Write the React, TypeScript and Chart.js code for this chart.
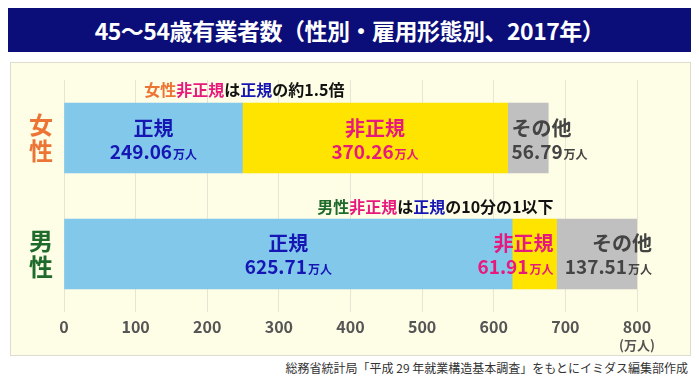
import React, { useEffect, useRef } from "react";
import { Chart, registerables } from "chart.js";

Chart.register(...registerables);

const categories = ["女性", "男性"];
const regular = [249.06, 625.71];
const nonRegular = [370.26, 61.91];
const other = [56.79, 137.51];
const xTicks = [0, 100, 200, 300, 400, 500, 600, 700, 800];
const seriesNames = ["正規", "非正規", "その他"];

const JP = '"Noto Sans CJK JP", "Noto Sans", sans-serif';
const BLUE_TXT = "#1616b4";
const PINK_TXT = "#e8197c";
const GRAY_TXT = "#444444";
const ORANGE = "#ec7434";
const GREEN = "#1e6b2c";

function drawValue(ctx: CanvasRenderingContext2D, value: string, x: number, y: number, align: "left" | "center" | "right", color: string) {
  const numFont = `bold 19px ${JP}`;
  const unitFont = `bold 12px ${JP}`;
  ctx.font = numFont;
  const w1 = ctx.measureText(value).width;
  ctx.font = unitFont;
  const w2 = ctx.measureText("万人").width;
  const total = w1 + 1 + w2;
  let start = x;
  if (align === "center") start = x - total / 2;
  if (align === "right") start = x - total;
  ctx.fillStyle = color;
  ctx.textAlign = "left";
  ctx.textBaseline = "alphabetic";
  ctx.font = numFont;
  ctx.fillText(value, start, y);
  ctx.font = unitFont;
  ctx.fillText("万人", start + w1 + 1, y);
}

function drawRich(ctx: CanvasRenderingContext2D, parts: [string, string][], x: number, y: number, align: "left" | "center" | "right", font: string) {
  ctx.font = font;
  const total = parts.reduce((s, p) => s + ctx.measureText(p[0]).width, 0);
  let cx = x;
  if (align === "center") cx = x - total / 2;
  if (align === "right") cx = x - total;
  ctx.textAlign = "left";
  ctx.textBaseline = "middle";
  for (const [t, c] of parts) {
    ctx.fillStyle = c;
    ctx.fillText(t, cx, y);
    cx += ctx.measureText(t).width;
  }
}

const labelPlugin = {
  id: "barLabels",
  afterDatasetsDraw(chart: any) {
    const ctx = chart.ctx as CanvasRenderingContext2D;
    const metas = [0, 1, 2].map((i) => chart.getDatasetMeta(i));
    const xScale = chart.scales.x;
    const area = chart.chartArea;
    ctx.save();
    const yColors = [ORANGE, GREEN];
    categories.forEach((cat, i) => {
      const bar = metas[0].data[i];
      ctx.font = `bold 24px ${JP}`;
      ctx.fillStyle = yColors[i];
      ctx.textAlign = "center";
      ctx.textBaseline = "middle";
      ctx.fillText(cat[0], 31, bar.y - 13);
      ctx.fillText(cat[1], 31, bar.y + 13);
    });

    const fmt = (v: number) => v.toFixed(2);
    const nameFont = `bold 20px ${JP}`;
    {
      const i = 0;
      const b0 = metas[0].data[i];
      const b1 = metas[1].data[i];
      const b2 = metas[2].data[i];
      const yTop = b0.y - 10;
      const yBot = b0.y + 21;
      ctx.font = nameFont;
      ctx.textBaseline = "middle";
      ctx.textAlign = "center";
      ctx.fillStyle = BLUE_TXT;
      ctx.fillText(seriesNames[0], (b0.base + b0.x) / 2, yTop);
      drawValue(ctx, fmt(regular[i]), (b0.base + b0.x) / 2, yBot, "center", BLUE_TXT);
      ctx.font = nameFont;
      ctx.textBaseline = "middle";
      ctx.textAlign = "center";
      ctx.fillStyle = PINK_TXT;
      ctx.fillText(seriesNames[1], (b1.base + b1.x) / 2, yTop);
      drawValue(ctx, fmt(nonRegular[i]), (b1.base + b1.x) / 2, yBot, "center", PINK_TXT);
      ctx.font = nameFont;
      ctx.textBaseline = "middle";
      ctx.textAlign = "left";
      ctx.fillStyle = GRAY_TXT;
      ctx.fillText(seriesNames[2], b2.base + 4, yTop);
      drawValue(ctx, fmt(other[i]), b2.base + 4, yBot, "left", GRAY_TXT);
      const h = b0.height;
      drawRich(
        ctx,
        [
          ["女性", ORANGE],
          ["非正規", PINK_TXT],
          ["は", "#111"],
          ["正規", BLUE_TXT],
          ["の約1.5倍", "#111"],
        ],
        b0.x + 2,
        b0.y - h / 2 - 13,
        "center",
        `bold 16px ${JP}`
      );
    }
    {
      const i = 1;
      const b0 = metas[0].data[i];
      const b1 = metas[1].data[i];
      const b2 = metas[2].data[i];
      const yTop = b0.y - 11;
      const yBot = b0.y + 20;
      ctx.font = nameFont;
      ctx.textBaseline = "middle";
      ctx.textAlign = "center";
      ctx.fillStyle = BLUE_TXT;
      ctx.fillText(seriesNames[0], (b0.base + b0.x) / 2, yTop);
      drawValue(ctx, fmt(regular[i]), (b0.base + b0.x) / 2, yBot, "center", BLUE_TXT);
      ctx.font = nameFont;
      ctx.textBaseline = "middle";
      ctx.textAlign = "right";
      ctx.fillStyle = PINK_TXT;
      ctx.fillText(seriesNames[1], b1.x - 3, yTop);
      drawValue(ctx, fmt(nonRegular[i]), b1.x - 3, yBot, "right", PINK_TXT);
      ctx.font = nameFont;
      ctx.textBaseline = "middle";
      ctx.textAlign = "right";
      ctx.fillStyle = GRAY_TXT;
      ctx.fillText(seriesNames[2], b2.x - 3, yTop);
      drawValue(ctx, fmt(other[i]), b2.x - 3, yBot, "right", GRAY_TXT);
      const h = b0.height;
      drawRich(
        ctx,
        [
          ["男性", GREEN],
          ["非正規", PINK_TXT],
          ["は", "#111"],
          ["正規", BLUE_TXT],
          ["の10分の1以下", "#111"],
        ],
        b1.x - 3,
        b0.y - h / 2 - 12,
        "right",
        `bold 16px ${JP}`
      );
    }
    ctx.font = `bold 13px ${JP}`;
    ctx.fillStyle = "#555";
    ctx.textAlign = "center";
    ctx.textBaseline = "middle";
    ctx.fillText("(万人)", xScale.getPixelForValue(800), area.bottom + 33);
    ctx.restore();
  },
};

export default function App() {
  const ref = useRef<HTMLCanvasElement>(null);
  useEffect(() => {
    if (!ref.current) return;
    const chart = new Chart(ref.current, {
      type: "bar",
      data: {
        labels: categories,
        datasets: [
          { label: seriesNames[0], data: regular, backgroundColor: "#82c8ea" },
          { label: seriesNames[1], data: nonRegular, backgroundColor: "#ffe400" },
          { label: seriesNames[2], data: other, backgroundColor: "#c0c0c0" },
        ],
      },
      options: {
        indexAxis: "y",
        responsive: false,
        animation: false,
        layout: { padding: { left: 54, right: 54, top: 18, bottom: 0 } },
        datasets: { bar: { barThickness: 70 } } as any,
        plugins: { legend: { display: false }, tooltip: { enabled: false } },
        scales: {
          x: {
            stacked: true,
            min: 0,
            max: 800,
            afterBuildTicks: (axis: any) => {
              axis.ticks = xTicks.map((v) => ({ value: v }));
            },
            afterFit: (axis: any) => {
              axis.height = 44;
            },
            grid: { color: "#e6e4d2", drawTicks: false, lineWidth: 1 },
            border: { display: false },
            ticks: {
              padding: 5,
              color: "#555555",
              font: { family: JP, size: 16, weight: "bold" },
            },
          },
          y: { stacked: true, display: false },
        },
      },
      plugins: [labelPlugin],
    });
    return () => chart.destroy();
  }, []);

  return (
    <div style={{ position: "fixed", left: 0, top: 0, width: 699, height: 383, background: "#fff", overflow: "hidden" }}>
      <div
        style={{
          position: "absolute",
          left: 8,
          top: 8,
          width: 683,
          height: 44,
          background: "#0b0d78",
          color: "#fff",
          fontFamily: JP,
          fontWeight: 700,
          fontSize: 23,
          lineHeight: "44px",
          textAlign: "center",
          letterSpacing: -0.5,
        }}
      >
        45～54歳有業者数（性別・雇用形態別、2017年）
      </div>
      <div
        style={{
          position: "absolute",
          left: 10,
          top: 62,
          width: 679,
          height: 292,
          background: "#fefde6",
          border: "1px solid #dedcd0",
        }}
      />
      <canvas ref={ref} width={681} height={294} style={{ position: "absolute", left: 10, top: 62, width: 681, height: 294 }} />
      <div
        style={{
          position: "absolute",
          right: 11,
          top: 360,
          fontFamily: JP,
          fontSize: 12,
          color: "#333",
          whiteSpace: "nowrap",
          lineHeight: "16px",
        }}
      >
        総務省統計局「平成 29 年就業構造基本調査」をもとにイミダス編集部作成
      </div>
    </div>
  );
}
